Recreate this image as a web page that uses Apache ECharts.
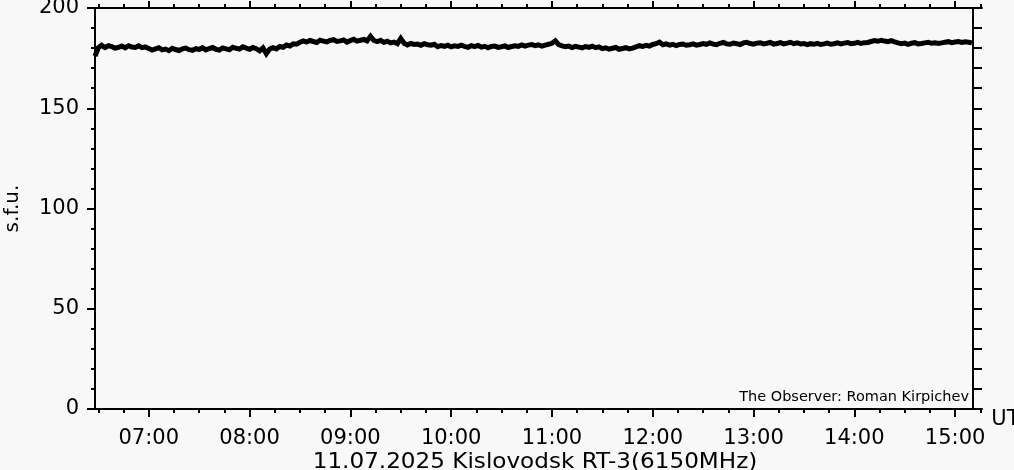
<!DOCTYPE html>
<html>
<head>
<meta charset="utf-8">
<script src="https://cdn.jsdelivr.net/npm/echarts@6/dist/echarts.min.js"></script>
<style>
html,body{margin:0;padding:0;background:#f8f8f8;}
#chart{width:1014px;height:470px;}
</style>
</head>
<body>
<div id="chart"></div>
<script>
// Time of samples: minutes of day, starting 06:28 every 2 minutes
const startMinute = 388;
const stepMinutes = 2;
// Flux values, s.f.u. (noisy band)
const fluxValues = [
176.0,180.2,181.4,180.3,181.2,180.7,180.0,180.4,181.0,180.1,
181.2,180.5,180.3,181.1,180.2,180.6,179.8,179.0,179.6,180.2,
179.1,179.5,178.7,179.9,179.3,178.8,179.6,180.0,179.2,178.9,
179.7,179.3,180.2,179.1,179.8,180.3,179.4,179.0,180.1,179.6,
179.2,180.4,179.9,179.5,180.6,180.0,179.4,180.3,179.7,178.6,
180.1,177.2,179.5,180.2,179.6,180.8,180.4,181.5,181.0,182.1,
181.9,182.9,183.6,183.0,183.8,183.3,182.8,183.9,183.5,183.1,
183.8,184.2,183.3,183.6,184.1,183.0,183.7,184.4,183.5,183.9,
184.3,183.6,185.9,183.8,183.2,183.9,182.9,183.4,182.6,183.0,
182.2,184.8,182.4,181.6,182.3,181.8,182.0,181.4,182.2,181.7,
181.5,181.9,180.7,181.3,180.9,181.4,180.6,181.1,180.8,181.5,
180.9,180.4,181.2,180.7,181.3,180.5,180.9,180.2,180.8,181.0,
180.4,180.7,181.1,180.3,180.8,181.2,180.9,181.6,181.0,181.5,
181.8,181.2,181.6,181.0,181.5,181.9,182.4,183.6,181.7,181.1,
180.7,181.0,180.3,180.9,180.5,180.1,180.8,180.4,181.0,180.2,
180.6,179.7,180.1,179.5,179.9,180.3,179.4,179.8,180.2,179.6,
180.0,180.6,181.2,180.8,181.4,181.0,181.8,182.2,183.0,181.7,
182.1,181.5,181.9,181.2,181.8,182.0,181.4,181.7,182.1,181.5,
181.8,182.3,181.9,182.6,182.0,181.7,182.4,182.8,182.1,181.9,
182.5,182.2,181.8,182.6,182.9,182.3,182.0,182.5,182.7,182.1,
182.4,182.8,182.0,182.3,182.7,182.1,182.5,182.9,182.2,182.6,
182.1,182.3,181.7,182.2,181.9,182.4,181.8,182.1,182.5,181.9,
182.2,182.6,182.1,182.5,182.8,182.2,182.4,182.9,182.3,182.7,
182.8,183.3,183.8,183.4,183.9,183.5,183.2,183.7,183.1,182.6,
182.2,182.5,181.9,182.4,182.7,182.1,182.3,182.6,182.9,182.4,
182.7,182.3,182.6,182.9,183.2,182.7,183.0,183.3,182.8,183.1,
182.9,182.6
];
// Axis ticks
const hourTickMinutes = [420,480,540,600,660,720,780,840,900];
const hourTickLabels = ['07:00','08:00','09:00','10:00','11:00','12:00','13:00','14:00','15:00'];
const quarterTickMinutes = [390,405,435,450,465,495,510,525,555,570,585,615,630,645,675,690,705,735,750,765,795,810,825,855,870,885,915];
const yMin = 0, yMax = 200;
const titleText = '11.07.2025 Kislovodsk RT-3(6150MHz)';
const observerText = 'The Observer: Roman Kirpichev';
const yName = 's.f.u.';
const xName = 'UT';

const seriesData = fluxValues.map((v, i) => [startMinute + i * stepMinutes, v]);

const FONT = 'DejaVu Sans';
const lineStyle = {color: '#000', width: 2};
const xMin = 388, xMax = 916;

const chart = echarts.init(document.getElementById('chart'), null, {renderer: 'canvas'});
chart.setOption({
  backgroundColor: '#f8f8f8',
  animation: false,
  grid: [
    {left: 95, right: 32, top: 8, bottom: 61, outerBoundsMode: 'none', containLabel: false},
    {left: 95, right: 41, top: 8, bottom: 61, outerBoundsMode: 'none', containLabel: false}
  ],
  xAxis: [
    {
      gridIndex: 0, type: 'value', position: 'bottom', min: xMin, max: xMax,
      axisLine: {show: true, onZero: false, lineStyle: lineStyle},
      axisTick: {show: true, length: 8, lineStyle: lineStyle, customValues: hourTickMinutes},
      axisLabel: {show: true, customValues: hourTickMinutes, margin: 19, color: '#000',
        fontFamily: FONT, fontSize: 21,
        formatter: v => hourTickLabels[hourTickMinutes.indexOf(v)] || ''},
      splitLine: {show: false},
      name: xName, nameLocation: 'end', nameGap: 5,
      nameTextStyle: {color: '#000', fontFamily: FONT, fontSize: 21, verticalAlign: 'top', padding: [0, 0, 0, 0]}
    },
    {
      gridIndex: 0, type: 'value', position: 'bottom', min: xMin, max: xMax,
      axisLine: {show: false, onZero: false},
      axisTick: {show: true, length: 4, lineStyle: lineStyle, customValues: quarterTickMinutes},
      axisLabel: {show: false}, splitLine: {show: false}
    },
    {
      gridIndex: 0, type: 'value', position: 'top', min: xMin, max: xMax,
      axisLine: {show: true, onZero: false, lineStyle: lineStyle},
      axisTick: {show: true, length: 7, lineStyle: lineStyle, customValues: hourTickMinutes},
      axisLabel: {show: false}, splitLine: {show: false}
    },
    {
      gridIndex: 0, type: 'value', position: 'top', min: xMin, max: xMax,
      axisLine: {show: false, onZero: false},
      axisTick: {show: true, length: 4, lineStyle: lineStyle, customValues: quarterTickMinutes},
      axisLabel: {show: false}, splitLine: {show: false}
    },
    {
      gridIndex: 1, type: 'value', show: false, min: 0, max: 1,
      axisLine: {onZero: false}
    }
  ],
  yAxis: [
    {
      gridIndex: 0, type: 'value', position: 'left', min: yMin, max: yMax, interval: 50,
      axisLine: {show: true, onZero: false, lineStyle: lineStyle},
      axisTick: {show: true, length: 8, lineStyle: lineStyle},
      minorTick: {show: true, splitNumber: 5, length: 4, lineStyle: lineStyle},
      minorSplitLine: {show: false},
      axisLabel: {color: '#000', fontFamily: FONT, fontSize: 21, margin: 16},
      splitLine: {show: false},
      name: yName, nameLocation: 'middle', nameRotate: 90, nameGap: 72,
      nameTextStyle: {color: '#000', fontFamily: FONT, fontSize: 20}
    },
    {
      gridIndex: 1, type: 'value', position: 'right', min: yMin, max: yMax, interval: 10,
      axisLine: {show: true, onZero: false, lineStyle: lineStyle},
      axisTick: {show: true, length: 9, lineStyle: lineStyle},
      axisLabel: {show: false},
      splitLine: {show: false}
    }
  ],
  series: [{
    type: 'line', xAxisIndex: 0, yAxisIndex: 0,
    data: seriesData, showSymbol: false, symbol: 'none',
    lineStyle: {color: '#000', width: 5, join: 'miter'}, clip: true
  }],
  graphic: [
    {type: 'text', x: 535, y: 452, scaleX: 1.1, style: {text: titleText, fill: '#000', font: '21px "DejaVu Sans"', textAlign: 'center', textVerticalAlign: 'top'}},
    {type: 'text', x: 969, y: 390, style: {text: observerText, fill: '#000', font: '14.5px "DejaVu Sans"', textAlign: 'right', textVerticalAlign: 'top'}}
  ]
});
</script>
</body>
</html>
